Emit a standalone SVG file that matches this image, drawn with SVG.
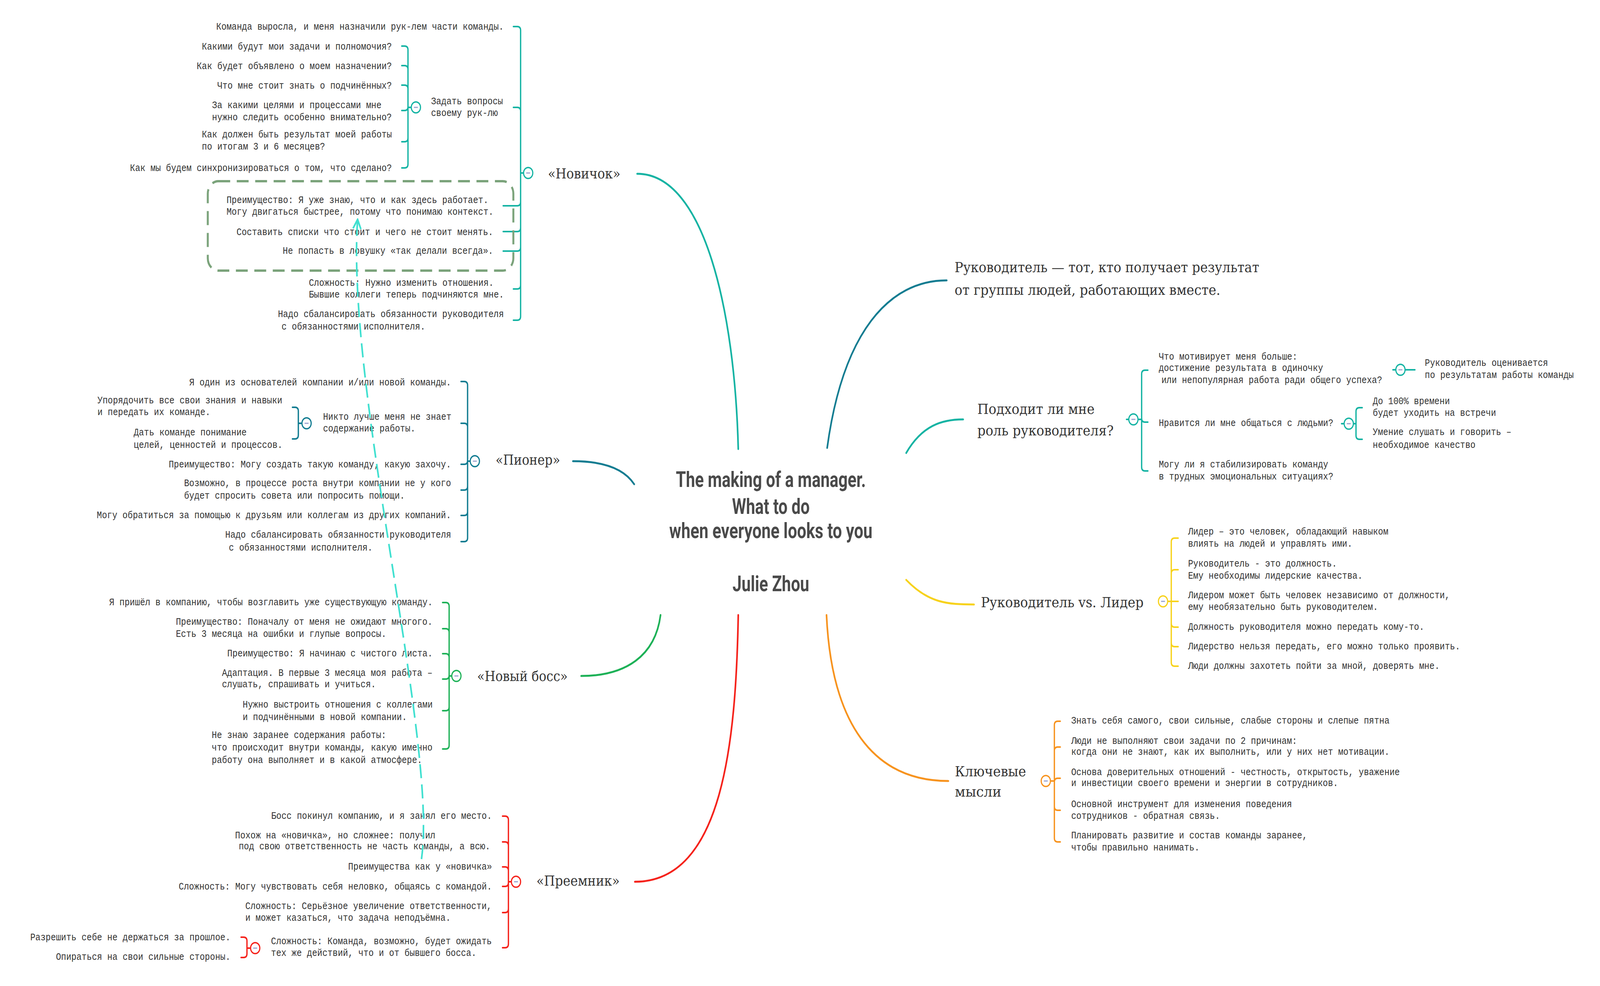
<svg xmlns="http://www.w3.org/2000/svg" width="4859" height="2525" viewBox="0 0 4859 2525" preserveAspectRatio="none">
<defs>
<style>
:root{width:100vw;height:100vh}
.t{font-family:"Liberation Mono","Courier New",monospace;font-size:26px;fill:#333}
.e{text-anchor:end}
.lb{font-family:"DejaVu Serif","Liberation Serif",serif;font-size:36px;fill:#333}
.ti{font-family:Roboto,"Liberation Sans",sans-serif;font-weight:700;font-size:56px;fill:#4a4a4a;text-anchor:middle}
.br{fill:none;stroke-width:5;stroke-linecap:round}
.bk{fill:none;stroke-width:4;stroke-linecap:round}
.c1{stroke:#14b3a3}
.c2{stroke:#127c91}
.c3{stroke:#1db157}
.c4{stroke:#f5221b}
.c5{stroke:#f7d21c}
.c6{stroke:#f7931e}
.cb{fill:#fff;stroke-width:3.5}
.mn{fill:#9aa3d0}
.rel{fill:none;stroke:#40e0d0;stroke-width:5;stroke-dasharray:36 16}
.bd{fill:none;stroke:#7ba37b;stroke-width:6;stroke-dasharray:36 20}
</style>
<marker id="arr" viewBox="0 0 30 30" refX="27" refY="15" markerWidth="30" markerHeight="30" markerUnits="userSpaceOnUse" orient="auto">
<path d="M3,3 L27,15 L3,27" fill="none" stroke="#40e0d0" stroke-width="5"/>
</marker>
</defs>
<rect width="4859" height="2525" fill="#fff"/>

<g id="connectors">
<path class="br c1" d="M2242,1150 C2232,800 2140,445 1935,445"/>
<path class="br c2" d="M1926,1240 C1895,1200 1830,1181 1740,1181"/>
<path class="br c3" d="M2006,1575 C1990,1680 1900,1731 1765,1731"/>
<path class="br c4" d="M2242,1575 C2235,1900 2195,2258 1928,2258"/>
<path class="br c2" d="M2512,1147 C2560,850 2700,718 2875,718"/>
<path class="br c1" d="M2752,1160 C2800,1090 2860,1074 2925,1074"/>
<path class="br c5" d="M2752,1485 C2820,1545 2880,1548 2958,1548"/>
<path class="br c6" d="M2510,1575 C2525,1850 2650,2000 2880,2000"/>

<g class="bk c1">
<path d="M1559,68 H1571 Q1581,68 1581,78 M1559,275 H1571 Q1581,275 1581,285 M1528,527 H1571 Q1581,527 1581,517 M1528,593 H1571 Q1581,593 1581,583 M1528,643 H1571 Q1581,643 1581,633 M1559,740 H1571 Q1581,740 1581,730 M1559,820 H1571 Q1581,820 1581,810 M1581,78 V810 M1581,443 H1590"/>
<path d="M1220,118 H1229 Q1239,118 1239,128 M1220,168 H1229 Q1239,168 1239,178 M1220,218 H1229 Q1239,218 1239,228 M1220,283 H1229 Q1239,283 1239,273 M1220,363 H1229 Q1239,363 1239,353 M1220,430 H1229 Q1239,430 1239,420 M1239,128 V420 M1239,275 H1249"/>
<path d="M3486,948 H3477 Q3467,948 3467,958 M3486,1081 H3477 Q3467,1081 3467,1071 M3486,1206 H3477 Q3467,1206 3467,1196 M3467,958 V1196 M3456,1074 H3467 M3421,1074 H3428"/>
<path d="M4137,1044 H4128 Q4118,1044 4118,1054 M4137,1125 H4128 Q4118,1125 4118,1115 M4118,1054 V1115 M4110,1085 H4118 M4074,1085 H4082"/>
<path d="M4267,947 H4297 M4230,947 H4239"/>
</g>
<g class="bk c2">
<path d="M1400,977 H1410 Q1420,977 1420,987 M1400,1084 H1410 Q1420,1084 1420,1094 M1400,1189 H1410 Q1420,1189 1420,1179 M1400,1255 H1410 Q1420,1255 1420,1245 M1400,1320 H1410 Q1420,1320 1420,1310 M1400,1387 H1410 Q1420,1387 1420,1377 M1420,987 V1377 M1420,1181 H1428"/>
<path d="M888,1043 H896 Q906,1043 906,1053 M888,1124 H896 Q906,1124 906,1114 M906,1053 V1114 M906,1084 H917"/>
</g>
<g class="bk c3">
<path d="M1344,1543 H1354 Q1364,1543 1364,1553 M1344,1610 H1354 Q1364,1610 1364,1620 M1344,1674 H1354 Q1364,1674 1364,1684 M1344,1739 H1354 Q1364,1739 1364,1729 M1344,1820 H1354 Q1364,1820 1364,1810 M1344,1918 H1354 Q1364,1918 1364,1908 M1364,1553 V1908 M1364,1731 H1372"/>
</g>
<g class="bk c4">
<path d="M1526,2090 H1534 Q1544,2090 1544,2100 M1526,2156 H1534 Q1544,2156 1544,2166 M1526,2220 H1534 Q1544,2220 1544,2230 M1526,2270 H1534 Q1544,2270 1544,2260 M1526,2337 H1534 Q1544,2337 1544,2327 M1526,2427 H1534 Q1544,2427 1544,2417 M1544,2100 V2417 M1544,2258 H1553"/>
<path d="M732,2400 H740 Q750,2400 750,2410 M732,2452 H740 Q750,2452 750,2442 M750,2410 V2442 M750,2428 H761"/>
</g>
<g class="bk c5">
<path d="M3578,1378 H3567 Q3557,1378 3557,1388 M3578,1459 H3567 Q3557,1459 3557,1469 M3578,1540 H3557 M3578,1606 H3567 Q3557,1606 3557,1596 M3578,1656 H3567 Q3557,1656 3557,1646 M3578,1706 H3567 Q3557,1706 3557,1696 M3557,1388 V1696 M3546,1540 H3557"/>
</g>
<g class="bk c6">
<path d="M3220,1847 H3212 Q3202,1847 3202,1857 M3220,1913 H3212 Q3202,1913 3202,1923 M3220,1993 H3212 Q3202,1993 3202,2003 M3220,2075 H3212 Q3202,2075 3202,2065 M3220,2156 H3212 Q3202,2156 3202,2146 M3202,1857 V2146 M3190,2000 H3202"/>
</g>
</g>

<g id="boundary">
<rect class="bd" x="631" y="464" width="928" height="229" rx="32"/>
</g>

<g id="center">
<text class="ti" x="2341" y="1247" textLength="577" lengthAdjust="spacingAndGlyphs">The making of a manager.</text>
<text class="ti" x="2341" y="1316" textLength="236" lengthAdjust="spacingAndGlyphs">What to do</text>
<text class="ti" x="2341" y="1378" textLength="617" lengthAdjust="spacingAndGlyphs">when everyone looks to you</text>
<text class="ti" x="2341" y="1514" textLength="233" lengthAdjust="spacingAndGlyphs">Julie Zhou</text>
</g>

<g id="n-novichok">
<text class="lb" x="1664" y="457" textLength="220" lengthAdjust="spacingAndGlyphs">«Новичок»</text>
<circle class="cb c1" cx="1604" cy="443" r="14"/><rect class="mn" x="1598" y="441.5" width="12" height="3"/>
</g>
<g id="n-nov-1"><text class="t e" x="1530" y="76">Команда выросла, и меня назначили рук-лем части команды.</text></g>
<g id="n-nov-zadat">
<text class="t" x="1309" y="267">Задать вопросы<tspan x="1309" y="297">своему рук-лю</tspan></text>
<circle class="cb c1" cx="1263" cy="275" r="14"/><rect class="mn" x="1257" y="273.5" width="12" height="3"/>
</g>
<g id="n-zadat-1"><text class="t e" x="1190" y="127">Какими будут мои задачи и полномочия?</text></g>
<g id="n-zadat-2"><text class="t e" x="1190" y="177">Как будет объявлено о моем назначении?</text></g>
<g id="n-zadat-3"><text class="t e" x="1190" y="227">Что мне стоит знать о подчинённых?</text></g>
<g id="n-zadat-4"><text class="t" x="644" y="277">За какими целями и процессами мне<tspan x="644" y="308">нужно следить особенно внимательно?</tspan></text></g>
<g id="n-zadat-5"><text class="t" x="613" y="352">Как должен быть результат моей работы<tspan x="613" y="383">по итогам 3 и 6 месяцев?</tspan></text></g>
<g id="n-zadat-6"><text class="t e" x="1190" y="438">Как мы будем синхронизироваться о том, что сделано?</text></g>
<g id="n-nov-2"><text class="t" x="688" y="520">Преимущество: Я уже знаю, что и как здесь работает.<tspan x="688" y="550">Могу двигаться быстрее, потому что понимаю контекст.</tspan></text></g>
<g id="n-nov-3"><text class="t e" x="1498" y="602">Составить списки что стоит и чего не стоит менять.</text></g>
<g id="n-nov-4"><text class="t e" x="1498" y="650">Не попасть в ловушку «так делали всегда».</text></g>
<g id="n-nov-5"><text class="t" x="938" y="732">Сложность: Нужно изменить отношения.<tspan x="938" y="762">Бывшие коллеги теперь подчиняются мне.</tspan></text></g>
<g id="n-nov-6"><text class="t" x="844" y="812">Надо сбалансировать обязанности руководителя<tspan x="855" y="844">с обязанностями исполнителя.</tspan></text></g>

<g id="n-pioner">
<text class="lb" x="1505" y="1190" textLength="196" lengthAdjust="spacingAndGlyphs">«Пионер»</text>
<circle class="cb c2" cx="1442" cy="1181" r="14"/><rect class="mn" x="1436" y="1179.5" width="12" height="3"/>
</g>
<g id="n-pio-1"><text class="t e" x="1370" y="987">Я один из основателей компании и/или новой команды.</text></g>
<g id="n-pio-2">
<text class="t" x="981" y="1075">Никто лучше меня не знает<tspan x="981" y="1105">содержание работы.</tspan></text>
<circle class="cb c2" cx="931" cy="1084" r="14"/><rect class="mn" x="925" y="1082.5" width="12" height="3"/>
</g>
<g id="n-pio-2a"><text class="t" x="296" y="1033">Упорядочить все свои знания и навыки<tspan x="296" y="1063">и передать их команде.</tspan></text></g>
<g id="n-pio-2b"><text class="t" x="406" y="1115">Дать команде понимание<tspan x="406" y="1147">целей, ценностей и процессов.</tspan></text></g>
<g id="n-pio-3"><text class="t e" x="1370" y="1197">Преимущество: Могу создать такую команду, какую захочу.</text></g>
<g id="n-pio-4"><text class="t" x="559" y="1245">Возможно, в процессе роста внутри компании не у кого<tspan x="559" y="1277">будет спросить совета или попросить помощи.</tspan></text></g>
<g id="n-pio-5"><text class="t e" x="1370" y="1327">Могу обратиться за помощью к друзьям или коллегам из других компаний.</text></g>
<g id="n-pio-6"><text class="t" x="684" y="1377">Надо сбалансировать обязанности руководителя<tspan x="695" y="1410">с обязанностями исполнителя.</tspan></text></g>

<g id="n-boss">
<text class="lb" x="1449" y="1744" textLength="275" lengthAdjust="spacingAndGlyphs">«Новый босс»</text>
<circle class="cb c3" cx="1386" cy="1731" r="14"/><rect class="mn" x="1380" y="1729.5" width="12" height="3"/>
</g>
<g id="n-boss-1"><text class="t e" x="1314" y="1550">Я пришёл в компанию, чтобы возглавить уже существующую команду.</text></g>
<g id="n-boss-2"><text class="t" x="534" y="1600">Преимущество: Поначалу от меня не ожидают многого.<tspan x="534" y="1631">Есть 3 месяца на ошибки и глупые вопросы.</tspan></text></g>
<g id="n-boss-3"><text class="t e" x="1314" y="1681">Преимущество: Я начинаю с чистого листа.</text></g>
<g id="n-boss-4"><text class="t" x="674" y="1731">Адаптация. В первые 3 месяца моя работа –<tspan x="674" y="1760">слушать, спрашивать и учиться.</tspan></text></g>
<g id="n-boss-5"><text class="t" x="737" y="1812">Нужно выстроить отношения с коллегами<tspan x="737" y="1844">и подчинёнными в новой компании.</tspan></text></g>
<g id="n-boss-6"><text class="t" x="643" y="1890">Не знаю заранее содержания работы:<tspan x="643" y="1922">что происходит внутри команды, какую именно</tspan><tspan x="643" y="1954">работу она выполняет и в какой атмосфере.</tspan></text></g>

<g id="n-preemnik">
<text class="lb" x="1629" y="2268" textLength="253" lengthAdjust="spacingAndGlyphs">«Преемник»</text>
<circle class="cb c4" cx="1567" cy="2258" r="14"/><rect class="mn" x="1561" y="2256.5" width="12" height="3"/>
</g>
<g id="n-pre-1"><text class="t e" x="1494" y="2097">Босс покинул компанию, и я занял его место.</text></g>
<g id="n-pre-2"><text class="t" x="714" y="2147">Похож на «новичка», но сложнее: получил<tspan x="725" y="2175">под свою ответственность не часть команды, а всю.</tspan></text></g>
<g id="n-pre-3"><text class="t e" x="1494" y="2227">Преимущества как у «новичка»</text></g>
<g id="n-pre-4"><text class="t e" x="1494" y="2278">Сложность: Могу чувствовать себя неловко, общаясь с командой.</text></g>
<g id="n-pre-5"><text class="t" x="745" y="2328">Сложность: Серьёзное увеличение ответственности,<tspan x="745" y="2358">и может казаться, что задача неподъёмна.</tspan></text></g>
<g id="n-pre-6">
<text class="t" x="823" y="2418">Сложность: Команда, возможно, будет ожидать<tspan x="823" y="2448">тех же действий, что и от бывшего босса.</tspan></text>
<circle class="cb c4" cx="775" cy="2428" r="14"/><rect class="mn" x="769" y="2426.5" width="12" height="3"/>
</g>
<g id="n-pre-6a"><text class="t e" x="700" y="2408">Разрешить себе не держаться за прошлое.</text></g>
<g id="n-pre-6b"><text class="t e" x="700" y="2458">Опираться на свои сильные стороны.</text></g>

<g id="n-def">
<text class="lb" x="2899" y="697" textLength="925" lengthAdjust="spacingAndGlyphs">Руководитель — тот, кто получает результат</text>
<text class="lb" x="2899" y="755" textLength="807" lengthAdjust="spacingAndGlyphs">от группы людей, работающих вместе.</text>
</g>

<g id="n-fit">
<text class="lb" x="2968" y="1060" textLength="356" lengthAdjust="spacingAndGlyphs">Подходит ли мне</text>
<text class="lb" x="2968" y="1115" textLength="414" lengthAdjust="spacingAndGlyphs">роль руководителя?</text>
<circle class="cb c1" cx="3442" cy="1074" r="14"/><rect class="mn" x="3436" y="1072.5" width="12" height="3"/>
</g>
<g id="n-fit-1">
<text class="t" x="3519" y="921">Что мотивирует меня больше:<tspan x="3519" y="950">достижение результата в одиночку</tspan><tspan x="3527" y="981">или непопулярная работа ради общего успеха?</tspan></text>
<circle class="cb c1" cx="4253" cy="947" r="14"/><rect class="mn" x="4247" y="945.5" width="12" height="3"/>
</g>
<g id="n-fit-1a"><text class="t" x="4327" y="937">Руководитель оценивается<tspan x="4327" y="968">по результатам работы команды</tspan></text></g>
<g id="n-fit-2">
<text class="t" x="3519" y="1091">Нравится ли мне общаться с людьми?</text>
<circle class="cb c1" cx="4096" cy="1085" r="14"/><rect class="mn" x="4090" y="1083.5" width="12" height="3"/>
</g>
<g id="n-fit-2a"><text class="t" x="4169" y="1035">До 100% времени<tspan x="4169" y="1065">будет уходить на встречи</tspan></text></g>
<g id="n-fit-2b"><text class="t" x="4169" y="1114">Умение слушать и говорить –<tspan x="4169" y="1147">необходимое качество</tspan></text></g>
<g id="n-fit-3"><text class="t" x="3519" y="1197">Могу ли я стабилизировать команду<tspan x="3519" y="1228">в трудных эмоциональных ситуациях?</tspan></text></g>

<g id="n-leader">
<text class="lb" x="2979" y="1555" textLength="494" lengthAdjust="spacingAndGlyphs">Руководитель vs. Лидер</text>
<circle class="cb c5" cx="3532" cy="1540" r="14"/><rect class="mn" x="3526" y="1538.5" width="12" height="3"/>
</g>
<g id="n-lead-1"><text class="t" x="3608" y="1369">Лидер – это человек, обладающий навыком<tspan x="3608" y="1400">влиять на людей и управлять ими.</tspan></text></g>
<g id="n-lead-2"><text class="t" x="3608" y="1451">Руководитель - это должность.<tspan x="3608" y="1482">Ему необходимы лидерские качества.</tspan></text></g>
<g id="n-lead-3"><text class="t" x="3608" y="1532">Лидером может быть человек независимо от должности,<tspan x="3608" y="1562">ему необязательно быть руководителем.</tspan></text></g>
<g id="n-lead-4"><text class="t" x="3608" y="1613">Должность руководителя можно передать кому-то.</text></g>
<g id="n-lead-5"><text class="t" x="3608" y="1663">Лидерство нельзя передать, его можно только проявить.</text></g>
<g id="n-lead-6"><text class="t" x="3608" y="1713">Люди должны захотеть пойти за мной, доверять мне.</text></g>

<g id="n-key">
<text class="lb" x="2900" y="1988" textLength="216" lengthAdjust="spacingAndGlyphs">Ключевые</text>
<text class="lb" x="2900" y="2040" textLength="141" lengthAdjust="spacingAndGlyphs">мысли</text>
<circle class="cb c6" cx="3176" cy="2000" r="14"/><rect class="mn" x="3170" y="1998.5" width="12" height="3"/>
</g>
<g id="n-key-1"><text class="t" x="3253" y="1853">Знать себя самого, свои сильные, слабые стороны и слепые пятна</text></g>
<g id="n-key-2"><text class="t" x="3253" y="1905">Люди не выполняют свои задачи по 2 причинам:<tspan x="3253" y="1933">когда они не знают, как их выполнить, или у них нет мотивации.</tspan></text></g>
<g id="n-key-3"><text class="t" x="3253" y="1985">Основа доверительных отношений - честность, открытость, уважение<tspan x="3253" y="2013">и инвестиции своего времени и энергии в сотрудников.</tspan></text></g>
<g id="n-key-4"><text class="t" x="3253" y="2067">Основной инструмент для изменения поведения<tspan x="3253" y="2097">сотрудников - обратная связь.</tspan></text></g>
<g id="n-key-5"><text class="t" x="3253" y="2147">Планировать развитие и состав команды заранее,<tspan x="3253" y="2178">чтобы правильно нанимать.</tspan></text></g>

<g id="relationship">
<path class="rel" d="M1280,2200 C1330,1900 1050,1000 1086,562" marker-end="url(#arr)"/>
</g>
</svg>
